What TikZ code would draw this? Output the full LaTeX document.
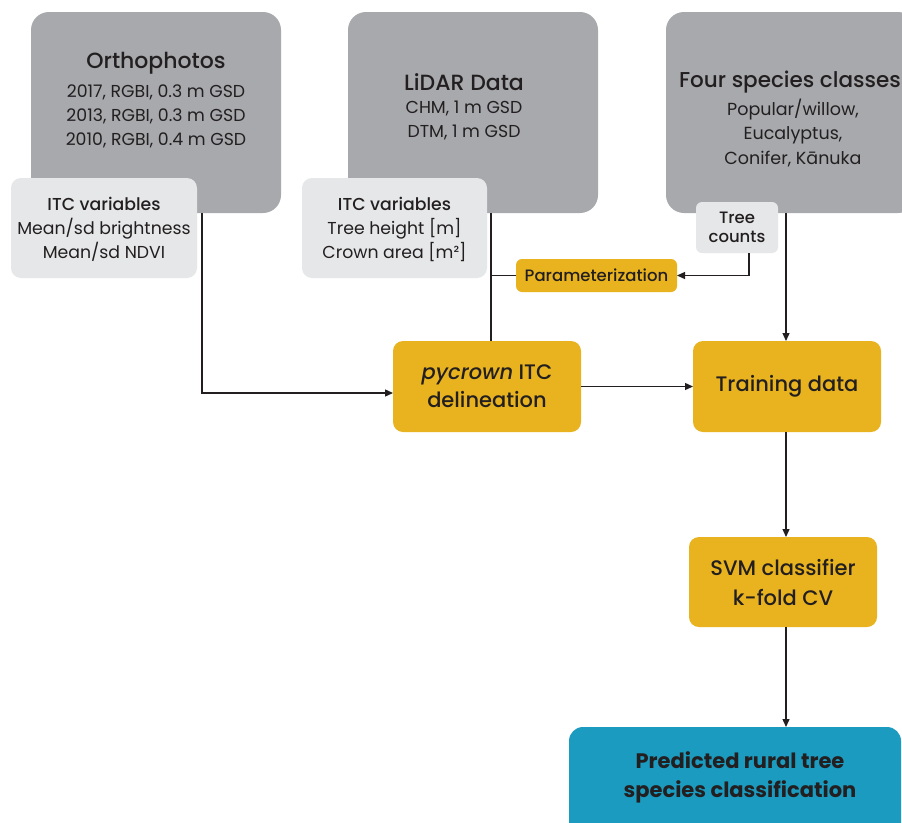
\documentclass[tikz,border=0pt]{standalone}
\usepackage{fontspec}
\setmainfont{Poppins}
\newfontfamily\medfont{Poppins Medium}
\usetikzlibrary{arrows.meta,calc}
\definecolor{gbox}{HTML}{A7A9AC}
\definecolor{lbox}{HTML}{E6E7E8}
\definecolor{ybox}{HTML}{E8B31F}
\definecolor{tbox}{HTML}{1A9BBF}
\definecolor{ink}{HTML}{231F20}
\begin{document}
\begin{tikzpicture}[x=1pt,y=-1pt,
  every node/.style={inner sep=0pt,outer sep=0pt,text=ink},
  bigbox/.style={fill=gbox,rounded corners=18pt,minimum width=250pt,minimum height=201pt},
  varbox/.style={fill=lbox,rounded corners=10pt},
  ybx/.style={fill=ybox,rounded corners=10pt},
  ttl/.style={font=\medfont\fontsize{22}{24}\selectfont,align=center},
  sub/.style={font=\fontsize{17.3}{24}\selectfont,align=center},
  con/.style={draw=ink,line width=1.3pt},
  arr/.style={con,-{Triangle[length=8pt,width=7pt]}}]
\clip (0,0) rectangle (902,822);
\fill[white] (0,0) rectangle (902,822);
% big gray boxes
\node[bigbox] (ortho) at (156,112.5) {};
\node[bigbox] (lidar) at (473,112.5) {};
\node[bigbox] (four) at (791,112.5) {};
\node[ttl] (orthoT) at (156,63) {Orthophotos};
\node[sub] (orthoS) at (156,116.5) {2017, RGBI, 0.3 m GSD\\2013, RGBI, 0.3 m GSD\\2010, RGBI, 0.4 m GSD};
\node[ttl] (lidarT) at (464,82) {LiDAR Data};
\node[sub] (lidarS) at (464,120.5) {CHM, 1 m GSD\\DTM, 1 m GSD};
\node[ttl,font=\medfont\fontsize{21.5}{24}\selectfont] (fourT) at (790,82) {Four species classes};
\node[sub,font=\fontsize{17.5}{24.5}\selectfont] (fourS) at (793,133) {Popular/willow,\\Eucalyptus,\\Conifer, Kānuka};
% light gray boxes
\node[varbox,minimum width=186pt,minimum height=100pt] (itcL) at (104,228) {};
\node[sub] (itcLT) at (104,229.5) {{\medfont ITC variables}\\Mean/sd brightness\\Mean/sd NDVI};
\node[varbox,minimum width=185pt,minimum height=100pt] (itcM) at (394.5,228) {};
\node[sub] (itcMT) at (394.5,229.5) {{\medfont ITC variables}\\Tree height [m]\\Crown area [m²]};
\node[varbox,rounded corners=6pt,minimum width=82pt,minimum height=51pt] (tree) at (737,227.5) {};
\node[font=\medfont\fontsize{16.5}{19}\selectfont,align=center] (treeT) at (737,227.5) {Tree\\counts};
% yellow boxes
\node[ybx,rounded corners=6pt,minimum width=161pt,minimum height=33pt,font=\medfont\fontsize{16.5}{18}\selectfont] (param) at (596.5,275.5) {Parameterization};
\node[ybx,minimum width=188pt,minimum height=91pt,font=\medfont\fontsize{21}{28}\selectfont,align=center] (pyc) at (487,386.5) {\textit{pycrown} ITC\\delineation};
\node[ybx,minimum width=188pt,minimum height=91pt,font=\medfont\fontsize{21}{28}\selectfont,align=center] (train) at (787,386.5) {Training data};
\node[ybx,minimum width=188pt,minimum height=90pt,font=\medfont\fontsize{21}{30}\selectfont,align=center] (svm) at (783,582) {SVM classifier\\k-fold CV};
\node[fill=tbox,rounded corners=14pt,minimum width=332pt,minimum height=120pt] (pred) at (735,787) {};
\node[font=\bfseries\fontsize{21}{29}\selectfont,align=center] (predT) at (740,777.5) {Predicted rural tree\\species classification};
% connectors
\coordinate (o1) at (202,213);
\draw[arr] (o1) |- ($(pyc.west)+(0,6.5)$);
\coordinate (l1) at (491,213);
\draw[con] (l1) -- (l1 |- pyc.north);
\draw[con] (l1 |- param.west) -- (param.west);
\coordinate (t1) at (749,253);
\draw[arr] (t1) |- (param.east);
\coordinate (f1) at (786,213);
\draw[arr] (f1) -- (f1 |- train.north);
\draw[arr] (pyc.east) -- (train.west);
\draw[arr] (f1 |- train.south) -- (f1 |- svm.north);
\draw[arr] (f1 |- svm.south) -- (f1 |- pred.north);
\end{tikzpicture}
\end{document}
